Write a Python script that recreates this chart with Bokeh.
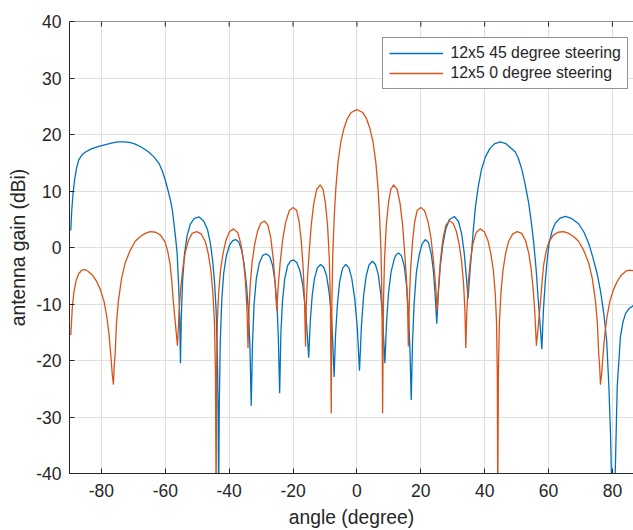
from bokeh.plotting import figure
from bokeh.models import Range1d, FixedTicker, Span
from bokeh.embed import file_html
from bokeh.resources import INLINE

# ---------------- data ----------------
x_ticks = [-80, -60, -40, -20, 0, 20, 40, 60, 80]
x_tick_labels = ["-80", "-60", "-40", "-20", "0", "20", "40", "60", "80"]
y_ticks = [-40, -30, -20, -10, 0, 10, 20, 30, 40]
y_tick_labels = ["-40", "-30", "-20", "-10", "0", "10", "20", "30", "40"]

series_names = ["12x5 45 degree steering", "12x5 0 degree steering"]

angle_45 = [
    -89.6, -89.3, -88.9, -88.4, -87.8, -87.1, -86.1, -85.0, -83.0, -80.8,
    -78.7, -76.6, -74.8, -73.0, -71.2, -69.4, -67.3, -65.2, -63.5, -62.0,
    -60.9, -60.0, -59.1, -58.4, -57.8, -57.4, -56.8, -56.3, -55.8, -55.5,
    -55.25, -55.0, -54.6, -54.0, -53.2, -52.2, -51.0, -49.4, -48.0, -46.8,
    -45.9, -45.2, -44.6, -44.1, -43.7, -43.45, -43.3, -43.1, -42.8, -42.3,
    -41.7, -40.9, -39.9, -38.9, -38.0, -37.0, -36.1, -35.3, -34.6, -34.0,
    -33.5, -33.1, -32.7, -32.2, -31.5, -30.6, -29.5, -28.4, -27.3, -26.4,
    -25.6, -25.0, -24.6, -24.2, -23.8, -23.3, -22.6, -21.7, -20.8, -19.8,
    -18.8, -17.8, -17.0, -16.3, -15.7, -15.1, -14.6, -14.0, -13.3, -12.4,
    -11.4, -10.4, -9.5, -8.7, -8.0, -7.55, -7.15, -6.7, -6.1, -5.4,
    -4.5, -3.5, -2.5, -1.6, -0.7, 0.1, 0.8, 1.4, 2.1, 2.9,
    3.8, 4.8, 5.8, 6.7, 7.5, 8.1, 8.75, 9.3, 9.9, 10.7,
    11.7, 12.4, 13.1, 13.9, 14.8, 15.6, 16.2, 16.6, 17.0, 17.4,
    17.9, 18.6, 19.5, 20.4, 21.4, 22.4, 23.3, 24.0, 24.5, 25.0,
    25.5, 26.1, 26.9, 27.8, 28.9, 30.5, 31.8, 32.8, 33.6, 34.2,
    34.8, 35.3, 35.8, 36.4, 37.1, 38.0, 39.0, 40.2, 41.6, 43.2,
    44.9, 46.6, 48.2, 49.6, 50.6, 51.7, 52.8, 53.8, 54.6, 55.4,
    56.1, 56.8, 57.4, 57.9, 58.4, 59.0, 59.6, 60.2, 61.1, 62.1,
    63.6, 65.3, 67.3, 69.4, 71.1, 72.6, 73.9, 75.2, 76.3, 77.3,
    78.2, 78.9, 79.4, 79.7, 80.3, 80.9, 81.5, 82.5, 83.3, 84.1,
    85.2, 86.8,
]
gain_45 = [
    3.0, 6.5, 9.5, 12.0, 14.0, 15.5, 16.4, 16.9, 17.5, 17.9,
    18.2, 18.5, 18.7, 18.7, 18.6, 18.3, 17.7, 16.9, 16.0, 14.9,
    13.5, 11.9, 10.0, 8.4, 6.6, 4.8, 1.8, -1.0, -7.0, -12.5,
    -20.5, -12.5, -6.0, -1.2, 2.0, 4.1, 5.1, 5.4, 4.7, 3.2,
    0.8, -2.2, -6.0, -11.0, -19.0, -30.0, -45.0, -28.0, -17.0, -9.0,
    -4.5, -1.5, 0.4, 1.2, 1.4, 1.0, -0.5, -3.0, -6.5, -11.0,
    -17.5, -28.0, -17.0, -10.0, -5.5, -2.8, -1.4, -1.1, -1.6, -3.2,
    -6.2, -10.5, -16.0, -25.8, -15.0, -9.5, -5.5, -3.2, -2.4, -2.2,
    -2.7, -4.2, -6.5, -10.0, -14.0, -19.5, -13.0, -8.5, -5.5, -3.6,
    -3.0, -3.5, -5.0, -8.0, -12.0, -17.0, -22.9, -15.5, -10.0, -6.0,
    -3.7, -3.0, -3.6, -5.5, -9.0, -14.0, -21.8, -14.0, -8.5, -5.0,
    -3.1, -2.4, -3.0, -4.8, -8.5, -13.0, -20.5, -13.0, -8.0, -4.3,
    -2.0, -1.2, -1.0, -1.4, -3.2, -7.0, -12.5, -18.0, -27.0, -17.0,
    -10.0, -4.5, -1.3, 0.6, 1.4, 0.9, -1.2, -4.5, -8.5, -13.5,
    -8.0, -3.3, 0.5, 3.2, 4.9, 5.5, 4.6, 2.4, -1.0, -4.8,
    -9.0, -5.0, -1.5, 2.8, 7.2, 10.8, 13.8, 16.0, 17.5, 18.4,
    18.7, 18.4, 17.6, 16.9, 15.7, 13.7, 10.8, 7.8, 4.5, 0.6,
    -3.8, -9.5, -14.0, -18.0, -11.0, -5.8, -2.0, 0.8, 2.9, 4.3,
    5.2, 5.5, 5.1, 4.2, 2.7, 0.7, -1.8, -4.6, -7.8, -11.7,
    -16.5, -24.7, -33.0, -40.5, -48.0, -39.4, -24.7, -15.8, -13.2, -11.7,
    -10.8, -10.2,
]

angle_0 = [
    -89.6, -89.1, -88.6, -87.9, -87.1, -86.1, -85.2, -84.2, -82.8, -81.5,
    -80.3, -79.2, -78.3, -77.6, -77.0, -76.6, -76.25, -76.0, -75.7, -75.3,
    -74.7, -73.7, -72.6, -71.0, -69.4, -67.9, -66.3, -64.7, -63.0, -61.5,
    -60.1, -59.2, -58.5, -58.0, -57.5, -57.0, -56.2, -55.7, -55.2, -54.6,
    -53.8, -52.8, -51.6, -50.2, -48.8, -47.5, -46.5, -45.7, -45.1, -44.6,
    -44.3, -44.1, -43.95, -43.7, -43.3, -42.7, -41.9, -41.0, -39.9, -38.6,
    -37.3, -36.3, -35.5, -34.9, -34.4, -34.1, -33.8, -33.4, -32.8, -32.0,
    -31.1, -30.1, -29.0, -27.9, -27.0, -26.2, -25.6, -25.1, -24.6, -24.0,
    -23.2, -22.3, -21.2, -20.0, -18.9, -18.1, -17.4, -16.8, -16.4, -16.1,
    -15.85, -15.5, -14.9, -14.3, -13.5, -12.6, -11.5, -10.6, -9.9, -9.2,
    -8.65, -8.3, -8.05, -7.85, -7.55, -7.1, -6.6, -5.9, -5.0, -4.0,
    -3.0, -1.8, 0.0, 1.8, 3.0, 4.0, 5.0, 5.9, 6.6, 7.1,
    7.55, 7.85, 8.05, 8.3, 8.65, 9.2, 9.9, 10.6, 11.5, 12.6,
    13.5, 14.3, 14.9, 15.5, 15.85, 16.1, 16.4, 16.8, 17.4, 18.1,
    18.9, 20.0, 21.2, 22.3, 23.2, 24.0, 24.6, 25.1, 25.6, 26.2,
    27.0, 27.9, 29.0, 30.1, 31.1, 32.0, 32.8, 33.4, 33.8, 34.1,
    34.4, 34.9, 35.5, 36.3, 37.3, 38.6, 39.9, 41.0, 41.9, 42.7,
    43.3, 43.7, 43.95, 44.1, 44.3, 44.6, 45.1, 45.7, 46.5, 47.5,
    48.8, 50.2, 51.6, 52.8, 53.8, 54.6, 55.2, 55.7, 56.2, 57.0,
    57.5, 58.0, 58.5, 59.2, 60.1, 61.5, 63.0, 64.7, 66.3, 67.9,
    69.4, 71.0, 72.6, 73.7, 74.7, 75.3, 75.7, 76.0, 76.25, 76.6,
    77.0, 77.6, 78.3, 79.2, 80.3, 81.5, 82.8, 84.2, 85.3, 86.8,
]
gain_0 = [
    -15.5, -10.5, -7.8, -5.8, -4.6, -4.0, -3.9, -4.2, -4.9, -6.0,
    -7.5, -9.5, -12.3, -15.5, -19.5, -22.5, -24.3, -21.0, -18.8, -13.5,
    -9.5, -5.5, -2.8, -0.5, 1.1, 1.9, 2.5, 2.8, 2.7, 2.2,
    1.0, -0.8, -3.0, -5.8, -9.5, -12.5, -17.4, -11.5, -7.5, -4.0,
    -1.0, 1.2, 2.5, 2.8, 2.4, 1.1, -1.2, -4.2, -8.0, -13.5,
    -22.0, -45.0, -22.0, -13.0, -8.0, -4.0, -1.0, 1.3, 2.8, 3.3,
    2.6, 0.6, -2.5, -6.0, -11.5, -17.8, -11.0, -6.5, -2.5, 0.6,
    2.9, 4.3, 4.7, 4.0, 1.8, -2.0, -6.5, -11.2, -6.5, -2.5,
    1.6, 4.5, 6.5, 7.1, 6.6, 4.6, 1.0, -4.0, -9.5, -17.5,
    -10.0, -5.5, -0.5, 4.0, 7.8, 10.3, 11.1, 10.3, 8.0, 4.0,
    -2.0, -10.0, -29.4, -10.0, -1.0, 5.5, 10.5, 15.2, 18.8, 21.2,
    22.8, 23.9, 24.4, 23.9, 22.8, 21.2, 18.8, 15.2, 10.5, 5.5,
    -1.0, -10.0, -29.4, -10.0, -2.0, 4.0, 8.0, 10.3, 11.1, 10.3,
    7.8, 4.0, -0.5, -5.5, -10.0, -17.5, -9.5, -4.0, 1.0, 4.6,
    6.6, 7.1, 6.5, 4.5, 1.6, -2.5, -6.5, -11.2, -6.5, -2.0,
    1.8, 4.0, 4.7, 4.3, 2.9, 0.6, -2.5, -6.5, -11.0, -17.8,
    -11.5, -6.0, -2.5, 0.6, 2.6, 3.3, 2.8, 1.3, -1.0, -4.0,
    -8.0, -13.0, -22.0, -45.0, -22.0, -13.5, -8.0, -4.2, -1.2, 1.1,
    2.4, 2.8, 2.5, 1.2, -1.0, -4.0, -7.5, -11.5, -17.4, -12.5,
    -9.5, -5.8, -3.0, -0.8, 1.0, 2.2, 2.7, 2.8, 2.5, 1.9,
    1.1, -0.5, -2.8, -5.5, -9.5, -13.5, -18.8, -21.0, -24.3, -22.5,
    -19.5, -15.5, -12.3, -9.5, -7.5, -6.0, -4.9, -4.2, -4.0, -4.1,
]

# ---------------- styling ----------------
FONT = "Liberation Sans"
TXT = "#262626"
BLUE = "#0072BD"
ORANGE = "#D95319"
GRID = "#dfdfdf"

p = figure(
    width=633, height=530,
    x_range=Range1d(-90, 86.6), y_range=Range1d(-40, 40),
    output_backend="svg", toolbar_location=None,
    min_border_left=69, min_border_right=0, min_border_top=21, min_border_bottom=57,
    background_fill_color="white", border_fill_color="white",
)
p.outline_line_color = None

p.line(angle_45, gain_45, line_color=BLUE, line_width=1.3, legend_label=series_names[0])
p.line(angle_0, gain_0, line_color=ORANGE, line_width=1.3, legend_label=series_names[1])

x_over = {t: s for t, s in zip(x_ticks, x_tick_labels)}
y_over = {t: s for t, s in zip(y_ticks, y_tick_labels)}

def style_axis(ax):
    ax.axis_line_color = TXT
    ax.axis_line_width = 1
    ax.major_tick_line_color = TXT
    ax.major_tick_in = 5
    ax.major_tick_out = 0
    ax.minor_tick_line_color = None
    ax.major_label_text_font = FONT
    ax.major_label_text_font_size = "17.5px"
    ax.major_label_text_color = TXT
    ax.axis_label_text_font = FONT
    ax.axis_label_text_font_size = "19.3px"
    ax.axis_label_text_font_style = "normal"
    ax.axis_label_text_color = TXT

xa = p.xaxis[0]
xa.ticker = FixedTicker(ticks=x_ticks)
xa.major_label_overrides = x_over
xa.axis_label = "angle (degree)"
style_axis(xa)
xa.major_label_standoff = 10
xa.axis_label_standoff = 7

ya = p.yaxis[0]
ya.ticker = FixedTicker(ticks=y_ticks)
ya.major_label_overrides = y_over
ya.axis_label = "antenna gain (dBi)"
style_axis(ya)
ya.major_label_standoff = 8
ya.axis_label_standoff = 4

# top frame edge with inward ticks (MATLAB box style); right edge is cut off in the reference
p.add_layout(Span(location=y_ticks[-1], dimension="width", line_color=TXT, line_width=1))
p.segment(x0=x_ticks, y0=[y_ticks[-1]] * len(x_ticks), x1=x_ticks,
          y1=[y_ticks[-1] - 0.9] * len(x_ticks), line_color=TXT, line_width=1)

p.xgrid.ticker = FixedTicker(ticks=x_ticks)
p.ygrid.ticker = FixedTicker(ticks=y_ticks)
p.xgrid.grid_line_color = GRID
p.ygrid.grid_line_color = GRID

lg = p.legend[0]
lg.location = (312.5, 384)
lg.margin = 0
lg.padding = 6
lg.spacing = 2
lg.glyph_width = 54
lg.glyph_height = 16
lg.label_height = 16
lg.label_standoff = 8
lg.label_text_font = FONT
lg.label_text_font_size = "15.8px"
lg.label_text_color = TXT
lg.border_line_color = TXT
lg.border_line_width = 1
lg.background_fill_color = "white"
lg.background_fill_alpha = 1.0

open("out.html", "w").write(file_html(p, INLINE))
